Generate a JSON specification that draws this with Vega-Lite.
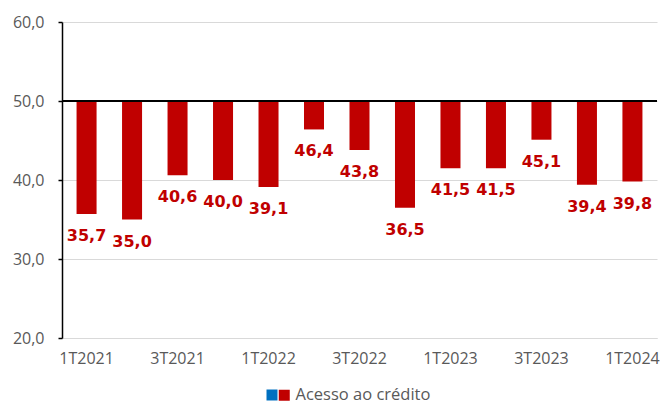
{
  "$schema": "https://vega.github.io/schema/vega-lite/v6.json",
  "width": 595,
  "height": 316,
  "padding": {"left": 12, "top": 14, "right": 6, "bottom": 0},
  "config": {
    "view": {"stroke": null},
    "font": "Open Sans",
    "locale": {"number": {"decimal": ",", "thousands": ".", "grouping": [3], "currency": ["R$", ""]}}
  },
  "data": {
    "values": [
      {"trimestre": "1T2021", "valor": 35.7, "serie": "Acesso ao crédito"},
      {"trimestre": "2T2021", "valor": 35.0, "serie": "Acesso ao crédito"},
      {"trimestre": "3T2021", "valor": 40.6, "serie": "Acesso ao crédito"},
      {"trimestre": "4T2021", "valor": 40.0, "serie": "Acesso ao crédito"},
      {"trimestre": "1T2022", "valor": 39.1, "serie": "Acesso ao crédito"},
      {"trimestre": "2T2022", "valor": 46.4, "serie": "Acesso ao crédito"},
      {"trimestre": "3T2022", "valor": 43.8, "serie": "Acesso ao crédito"},
      {"trimestre": "4T2022", "valor": 36.5, "serie": "Acesso ao crédito"},
      {"trimestre": "1T2023", "valor": 41.5, "serie": "Acesso ao crédito"},
      {"trimestre": "2T2023", "valor": 41.5, "serie": "Acesso ao crédito"},
      {"trimestre": "3T2023", "valor": 45.1, "serie": "Acesso ao crédito"},
      {"trimestre": "4T2023", "valor": 39.4, "serie": "Acesso ao crédito"},
      {"trimestre": "1T2024", "valor": 39.8, "serie": "Acesso ao crédito"}
    ]
  },
  "layer": [
    {
      "mark": {"type": "bar", "strokeWidth": 0},
      "encoding": {
        "x": {
          "field": "trimestre", "type": "ordinal", "sort": null,
          "scale": {"paddingInner": 0.56, "paddingOuter": 0.32},
          "axis": {
            "title": null, "labelAngle": 0, "ticks": false,
            "domainColor": "#D9D9D9", "domainWidth": 1,
            "labelFontSize": 16, "labelColor": "#595959", "labelPadding": 12,
            "labelExpr": "(indexof(datum.label, '1T') == 0 || indexof(datum.label, '3T') == 0) ? datum.label : ''"
          }
        },
        "y": {
          "field": "valor", "type": "quantitative",
          "scale": {"domain": [20, 60], "nice": false, "zero": false},
          "axis": {
            "title": null, "values": [20, 30, 40, 50, 60], "format": ".1f",
            "domainColor": "#000000", "domainWidth": 1.5,
            "tickColor": "#000000", "tickSize": 4, "tickWidth": 1.5,
            "gridColor": "#D9D9D9", "gridWidth": 1,
            "labelFontSize": 16, "labelColor": "#595959", "labelPadding": 14
          }
        },
        "y2": {"datum": 50},
        "color": {
          "field": "serie", "type": "nominal",
          "scale": {"domain": ["Acesso ao crédito"], "range": ["#C00000"]},
          "legend": {
            "title": null, "orient": "none", "direction": "horizontal",
            "legendX": 214, "legendY": 365,
            "symbolType": "square", "symbolSize": 121, "symbolStrokeWidth": 0,
            "labelFontSize": 16.5, "labelColor": "#595959",
            "labelOffset": 3
          }
        },
        "stroke": {
          "datum": "",
          "scale": {"range": ["#0070C0"]},
          "legend": {
            "title": null, "orient": "none", "direction": "horizontal",
            "legendX": 202, "legendY": 365,
            "symbolType": "square", "symbolSize": 121, "symbolStrokeWidth": 0,
            "symbolFillColor": "#0070C0",
            "labelFontSize": 16, "labelColor": "#595959",
            "labelOffset": 0
          }
        }
      }
    },
    {
      "mark": {"type": "rule", "color": "#000000", "strokeWidth": 1.5},
      "encoding": {"y": {"datum": 50, "type": "quantitative"}}
    },
    {
      "mark": {"type": "text", "font": "DejaVu Sans", "fontWeight": "bold", "fontSize": 16, "color": "#C00000", "baseline": "middle", "dy": 22},
      "encoding": {
        "x": {"field": "trimestre", "type": "ordinal", "sort": null},
        "y": {"field": "valor", "type": "quantitative"},
        "text": {"field": "valor", "type": "quantitative", "format": ".1f"}
      }
    }
  ]
}
